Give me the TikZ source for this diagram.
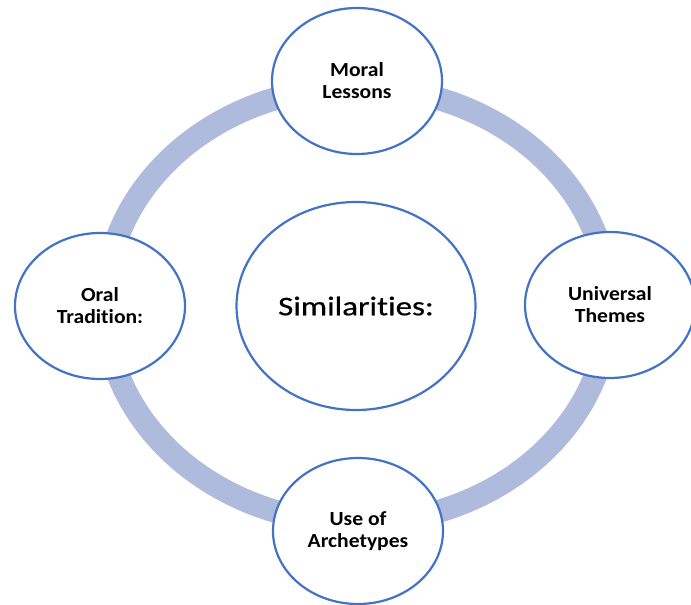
\documentclass[tikz,border=0pt]{standalone}
\usepackage{fontspec}
\setmainfont{Carlito}
\newfontfamily\lblfont[FakeStretch=1.08,RawFeature=-liga]{Carlito}
\newfontfamily\hubfont[FakeStretch=1.22,FakeBold=0.6,RawFeature=-liga]{Carlito}
\usetikzlibrary{shapes.geometric}
\definecolor{ringblue}{RGB}{174,187,221}
\definecolor{edgeblue}{RGB}{68,114,196}
\tikzset{
  bubble/.style={ellipse, draw=edgeblue, line width=2.2pt, fill=white,
    minimum width=170pt, minimum height=146pt, inner sep=0pt,
    align=center, font=\lblfont\bfseries\fontsize{20}{22}\selectfont},
  hub/.style={ellipse, draw=edgeblue, line width=2.2pt, fill=white,
    minimum width=239pt, minimum height=208pt, inner sep=0pt,
    font=\hubfont\fontsize{27}{30}\selectfont},
  ringband/.style={draw=ringblue, line width=23pt}
}
\begin{document}
\begin{tikzpicture}[x=1pt, y=-1pt]
  \useasboundingbox (0,0) rectangle (691,605);
  % cycle band behind the bubbles
  \draw[ringband] (357,305) ellipse [x radius=252pt, y radius=218pt];
  % central hub
  \node[hub] (hub) at (356,306) {Similarities:};
  % four surrounding bubbles
  \node[bubble] (moral) at (357,81) {Moral\\Lessons};
  \node[bubble] (themes) at (610,305) {Universal\\Themes};
  \node[bubble] (archetypes) at (358,531) {Use of\\Archetypes};
  \node[bubble] (oral) at (100,306) {Oral\\Tradition:};
\end{tikzpicture}
\end{document}
